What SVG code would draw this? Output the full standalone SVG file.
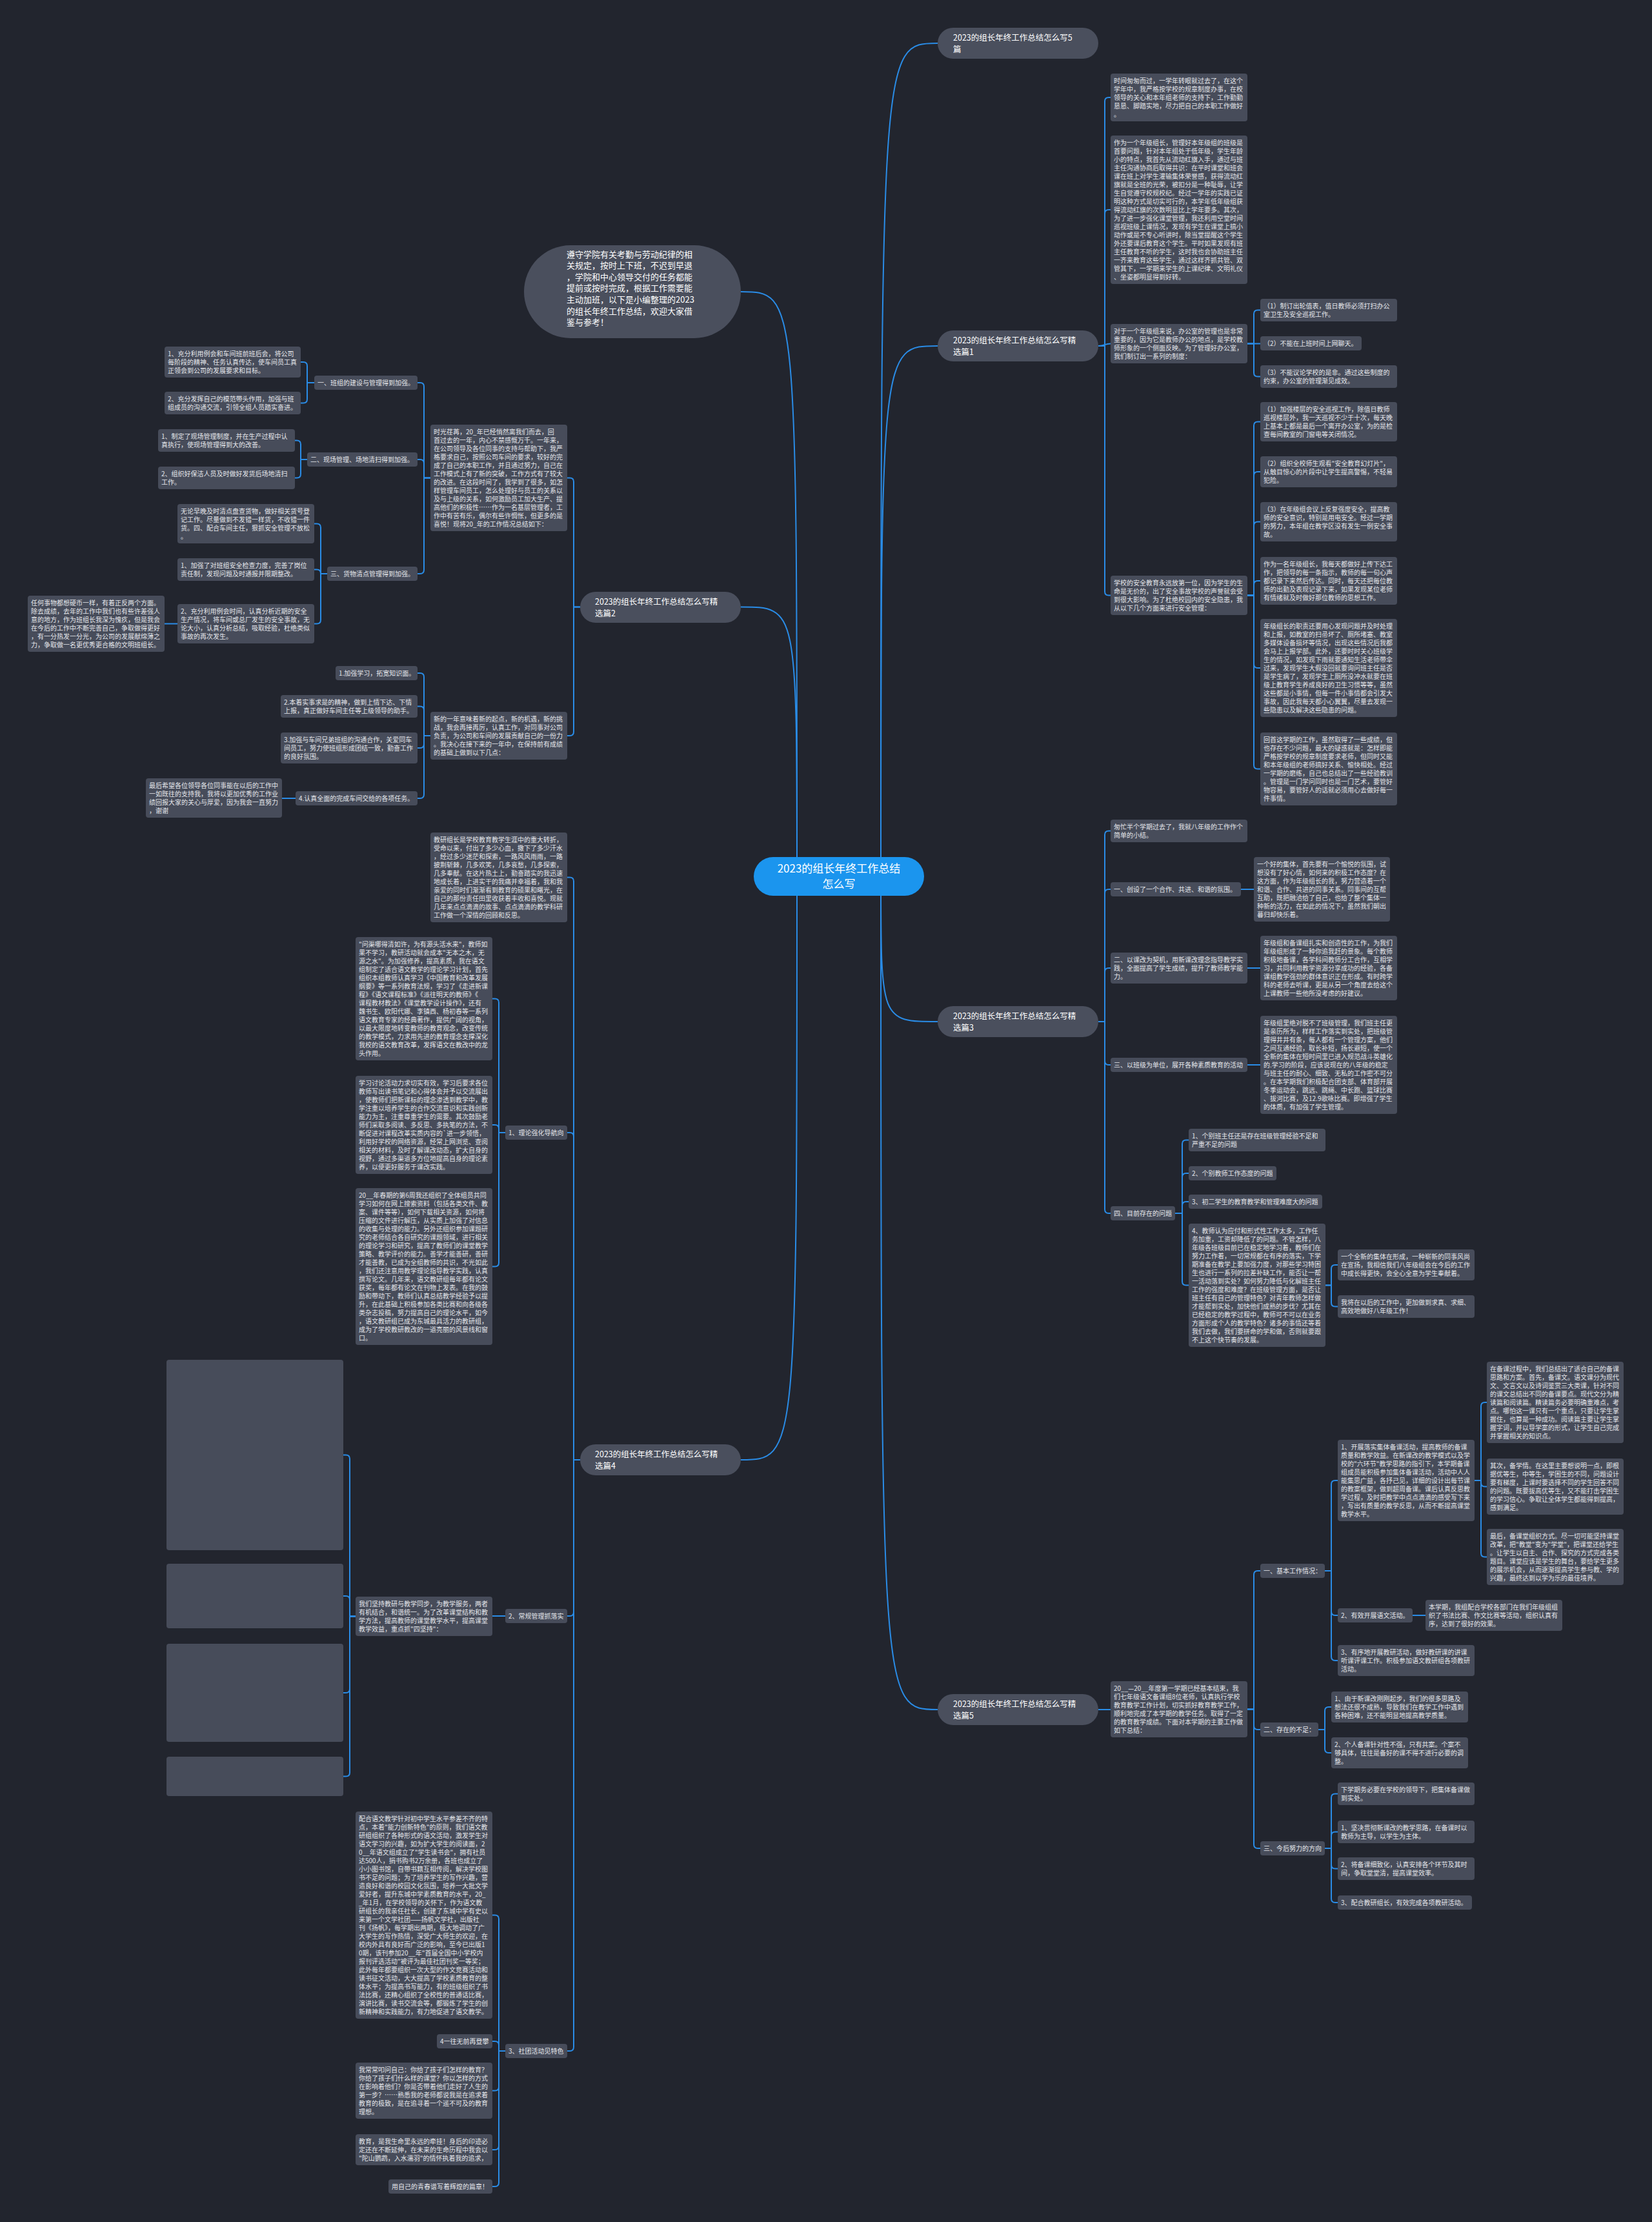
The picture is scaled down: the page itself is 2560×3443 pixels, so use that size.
<svg xmlns="http://www.w3.org/2000/svg" width="2560" height="3443" viewBox="0 0 2560 3443">
<style>
.b{fill:#474c5a}
.n{fill:#4a4f5d}
.t{font-family:"Noto Sans CJK SC","Noto Sans",sans-serif;font-size:10px;fill:#e4e6ea}
.nt{font-family:"Noto Sans CJK SC","Noto Sans",sans-serif;font-size:12.5px;fill:#ffffff}
.c{fill:none;stroke:#2a8ce6;stroke-width:2}
</style>
<rect width="2560" height="3443" fill="#22252e"/>
<g id="connectors" class="c">
<path d="M1365,1358 C1365,67 1365,67 1453,67"/>
<path d="M1365,1358 C1365,536 1365,536 1453,536"/>
<path d="M1365,1358 C1365,1583 1365,1583 1453,1583"/>
<path d="M1365,1358 C1365,2649 1365,2649 1453,2649"/>
<path d="M1235,1358 C1235,452 1235,452 1148,452"/>
<path d="M1235,1358 C1235,940.5 1235,940.5 1148,940.5"/>
<path d="M1235,1358 C1235,2262 1235,2262 1148,2262"/>
<path d="M1702,536 H1712 V157 Q1712,151 1718,151 H1721"/>
<path d="M1702,536 H1712 V331 Q1712,325 1718,325 H1721"/>
<path d="M1702,536 C1712,536 1712,532.5 1721,532.5"/>
<path d="M1702,536 H1712 V916.5 Q1712,922.5 1718,922.5 H1721"/>
<path d="M1933,532.5 H1943 V486.5 Q1943,480.5 1949,480.5 H1953"/>
<path d="M1933,532.5 H1953"/>
<path d="M1933,532.5 H1943 V577.5 Q1943,583.5 1949,583.5 H1953"/>
<path d="M1933,922.5 H1943 V659.5 Q1943,653.5 1949,653.5 H1953"/>
<path d="M1933,922.5 H1943 V737 Q1943,731 1949,731 H1953"/>
<path d="M1933,922.5 H1943 V814.5 Q1943,808.5 1949,808.5 H1953"/>
<path d="M1933,922.5 H1943 V906 Q1943,900 1949,900 H1953"/>
<path d="M1933,922.5 H1943 V1029 Q1943,1035 1949,1035 H1953"/>
<path d="M1933,922.5 H1943 V1185.5 Q1943,1191.5 1949,1191.5 H1953"/>
<path d="M1702,1583 H1712 V1293.5 Q1712,1287.5 1718,1287.5 H1721"/>
<path d="M1702,1583 H1712 V1384 Q1712,1378 1718,1378 H1721"/>
<path d="M1702,1583 H1712 V1506 Q1712,1500 1718,1500 H1721"/>
<path d="M1702,1583 H1712 V1644 Q1712,1650 1718,1650 H1721"/>
<path d="M1702,1583 H1712 V1874 Q1712,1880 1718,1880 H1721"/>
<path d="M1923,1378 H1943"/>
<path d="M1933,1500 H1953"/>
<path d="M1933,1650 H1953"/>
<path d="M1821,1880 H1832 V1772.5 Q1832,1766.5 1838,1766.5 H1842"/>
<path d="M1821,1880 H1832 V1824 Q1832,1818 1838,1818 H1842"/>
<path d="M1821,1880 H1832 V1868 Q1832,1862 1838,1862 H1842"/>
<path d="M1821,1880 H1832 V1985.5 Q1832,1991.5 1838,1991.5 H1842"/>
<path d="M2054,1991.5 H2063 V1966 Q2063,1960 2069,1960 H2073"/>
<path d="M2054,1991.5 H2063 V2018.5 Q2063,2024.5 2069,2024.5 H2073"/>
<path d="M1702,2649 H1721"/>
<path d="M1933,2648.5 H1943 V2440 Q1943,2434 1949,2434 H1953"/>
<path d="M1933,2648.5 H1943 V2674 Q1943,2680 1949,2680 H1953"/>
<path d="M1933,2648.5 H1943 V2858 Q1943,2864 1949,2864 H1953"/>
<path d="M2053,2434 H2063 V2300 Q2063,2294 2069,2294 H2073"/>
<path d="M2053,2434 H2063 V2497 Q2063,2503 2069,2503 H2073"/>
<path d="M2053,2434 H2063 V2567 Q2063,2573 2069,2573 H2073"/>
<path d="M2285,2294 H2295 V2179 Q2295,2173 2301,2173 H2304"/>
<path d="M2285,2294 H2295 V2297.5 Q2295,2303.5 2301,2303.5 H2304"/>
<path d="M2285,2294 H2295 V2406.5 Q2295,2412.5 2301,2412.5 H2304"/>
<path d="M2189,2503 H2209"/>
<path d="M2043,2680 H2053 V2651 Q2053,2645 2059,2645 H2063"/>
<path d="M2043,2680 H2053 V2710 Q2053,2716 2059,2716 H2063"/>
<path d="M2053,2864 H2063 V2785.5 Q2063,2779.5 2069,2779.5 H2073"/>
<path d="M2053,2864 H2063 V2844.5 Q2063,2838.5 2069,2838.5 H2073"/>
<path d="M2053,2864 H2063 V2889.5 Q2063,2895.5 2069,2895.5 H2073"/>
<path d="M2053,2864 H2063 V2942 Q2063,2948 2069,2948 H2073"/>
<path d="M899,940.5 H889 V746.5 Q889,740.5 883,740.5 H879"/>
<path d="M899,940.5 H889 V1134 Q889,1140 883,1140 H879"/>
<path d="M667,740.5 H657 V599 Q657,593 651,593 H647"/>
<path d="M667,740.5 H657 V718 Q657,712 651,712 H647"/>
<path d="M667,740.5 H657 V883 Q657,889 651,889 H647"/>
<path d="M487,593 H476 V567 Q476,561 470,561 H466"/>
<path d="M487,593 H476 V618.5 Q476,624.5 470,624.5 H466"/>
<path d="M476,712 H466 V688.5 Q466,682.5 460,682.5 H457"/>
<path d="M476,712 H466 V734.5 Q466,740.5 460,740.5 H457"/>
<path d="M507,889 H497 V817.5 Q497,811.5 491,811.5 H487"/>
<path d="M507,889 H497 V888.5 Q497,882.5 491,882.5 H487"/>
<path d="M507,889 H497 V960.5 Q497,966.5 491,966.5 H487"/>
<path d="M275,966.5 H255"/>
<path d="M667,1140 H657 V1049 Q657,1043 651,1043 H647"/>
<path d="M667,1140 H657 V1100.5 Q657,1094.5 651,1094.5 H647"/>
<path d="M667,1140 H657 V1153 Q657,1159 651,1159 H647"/>
<path d="M667,1140 H657 V1231 Q657,1237 651,1237 H647"/>
<path d="M458,1237 H437"/>
<path d="M899,2262 H889 V1365.5 Q889,1359.5 883,1359.5 H879"/>
<path d="M899,2262 H889 V1761 Q889,1755 883,1755 H879"/>
<path d="M899,2262 H889 V2498 Q889,2504 883,2504 H879"/>
<path d="M899,2262 H889 V3172 Q889,3178 883,3178 H879"/>
<path d="M783,1755 H773 V1553.5 Q773,1547.5 767,1547.5 H763"/>
<path d="M783,1755 H773 V1749 Q773,1743 767,1743 H763"/>
<path d="M783,1755 H773 V1956.5 Q773,1962.5 767,1962.5 H763"/>
<path d="M783,2504 H763"/>
<path d="M551,2504.5 H542 V2260.5 Q542,2254.5 536,2254.5 H532"/>
<path d="M551,2504.5 H542 V2479 Q542,2473 536,2473 H532"/>
<path d="M551,2504.5 H542 V2617 Q542,2623 536,2623 H532"/>
<path d="M551,2504.5 H542 V2746.5 Q542,2752.5 536,2752.5 H532"/>
<path d="M783,3178 H773 V2973.5 Q773,2967.5 767,2967.5 H763"/>
<path d="M783,3178 H773 V3169 Q773,3163 767,3163 H763"/>
<path d="M783,3178 H773 V3233.5 Q773,3239.5 767,3239.5 H763"/>
<path d="M783,3178 H773 V3325 Q773,3331 767,3331 H763"/>
<path d="M783,3178 H773 V3382 Q773,3388 767,3388 H763"/>
</g>

<g id="center"><rect x="1168" y="1328" width="264" height="60" rx="30" fill="#1b95ee"/>
<text x="1300" y="1352" text-anchor="middle" font-family="Noto Sans CJK SC, sans-serif" font-size="17" fill="#fff"><tspan x="1300">2023的组长年终工作总结</tspan><tspan x="1300" dy="24">怎么写</tspan></text></g>

<g id="intro"><rect x="812" y="380" width="336" height="144" rx="72" class="n"/>
<text font-family="Noto Sans CJK SC, sans-serif" font-size="13" fill="#fff" x="878" y="398.5"><tspan x="878">遵守学院有关考勤与劳动纪律的相</tspan><tspan x="878" dy="17.6">关规定，按时上下班，不迟到早退</tspan><tspan x="878" dy="17.6">，学院和中心领导交付的任务都能</tspan><tspan x="878" dy="17.6">提前或按时完成，根据工作需要能</tspan><tspan x="878" dy="17.6">主动加班，以下是小编整理的2023</tspan><tspan x="878" dy="17.6">的组长年终工作总结，欢迎大家借</tspan><tspan x="878" dy="17.6">鉴与参考！</tspan></text></g>

<g id="n1"><rect x="1453" y="43" width="249" height="48" rx="24" class="n"/><text class="nt" x="1477" y="62.5"><tspan x="1477">2023的组长年终工作总结怎么写5</tspan><tspan x="1477" dy="18.5">篇</tspan></text></g>
<g id="n2"><rect x="1453" y="512" width="249" height="48" rx="24" class="n"/><text class="nt" x="1477" y="531.5"><tspan x="1477">2023的组长年终工作总结怎么写精</tspan><tspan x="1477" dy="18.5">选篇1</tspan></text></g>
<g id="n3"><rect x="1453" y="1559" width="249" height="48" rx="24" class="n"/><text class="nt" x="1477" y="1578.5"><tspan x="1477">2023的组长年终工作总结怎么写精</tspan><tspan x="1477" dy="18.5">选篇3</tspan></text></g>
<g id="n5"><rect x="1453" y="2625" width="249" height="48" rx="24" class="n"/><text class="nt" x="1477" y="2644.5"><tspan x="1477">2023的组长年终工作总结怎么写精</tspan><tspan x="1477" dy="18.5">选篇5</tspan></text></g>
<g id="n2l"><rect x="899" y="917" width="249" height="48" rx="24" class="n"/><text class="nt" x="922" y="936.5"><tspan x="922">2023的组长年终工作总结怎么写精</tspan><tspan x="922" dy="18.5">选篇2</tspan></text></g>
<g id="n4l"><rect x="899" y="2238" width="249" height="48" rx="24" class="n"/><text class="nt" x="922" y="2257.5"><tspan x="922">2023的组长年终工作总结怎么写精</tspan><tspan x="922" dy="18.5">选篇4</tspan></text></g>

<g id="b1a"><rect class="b" x="1721" y="114" width="212" height="74" rx="4"/><text class="t" x="1726" y="129"><tspan x="1726">时间匆匆而过，一学年转眼就过去了，在这个</tspan><tspan x="1726" dy="13">学年中，我严格按学校的规章制度办事，在校</tspan><tspan x="1726" dy="13">领导的关心和本年组老师的支持下，工作勤勤</tspan><tspan x="1726" dy="13">恳恳、脚踏实地，尽力把自己的本职工作做好</tspan><tspan x="1726" dy="13">。</tspan></text></g>
<g id="b1b"><rect class="b" x="1721" y="210" width="212" height="230" rx="4"/><text class="t" x="1726" y="225"><tspan x="1726">作为一个年级组长，管理好本年级组的班级是</tspan><tspan x="1726" dy="13">首要问题，针对本年组处于低年级，学生年龄</tspan><tspan x="1726" dy="13">小的特点，我首先从流动红旗入手，通过与班</tspan><tspan x="1726" dy="13">主任沟通协商后取得共识：在平时课堂和班会</tspan><tspan x="1726" dy="13">课在班上对学生灌输集体荣誉感，获得流动红</tspan><tspan x="1726" dy="13">旗就是全班的光荣，被扣分是一种耻辱，让学</tspan><tspan x="1726" dy="13">生自觉遵守校规校纪。经过一学年的实践已证</tspan><tspan x="1726" dy="13">明这种方式是切实可行的，本学年低年级组获</tspan><tspan x="1726" dy="13">得流动红旗的次数明显比上学年要多。其次，</tspan><tspan x="1726" dy="13">为了进一步强化课堂管理，我还利用空堂时间</tspan><tspan x="1726" dy="13">巡视班级上课情况，发现有学生在课堂上搞小</tspan><tspan x="1726" dy="13">动作或是不专心听讲时，除当堂提醒这个学生</tspan><tspan x="1726" dy="13">外还要课后教育这个学生。平时如果发现有班</tspan><tspan x="1726" dy="13">主任教育不听的学生，这时我也会协助班主任</tspan><tspan x="1726" dy="13">一齐来教育这些学生，通过这样齐抓共管、双</tspan><tspan x="1726" dy="13">管其下，一学期来学生的上课纪律、文明礼仪</tspan><tspan x="1726" dy="13">、坐姿都明显得到好转。</tspan></text></g>
<g id="b1c"><rect class="b" x="1721" y="502" width="212" height="61" rx="4"/><text class="t" x="1726" y="517"><tspan x="1726">对于一个年级组来说，办公室的管理也是非常</tspan><tspan x="1726" dy="13">重要的，因为它是教师办公的地点，是学校教</tspan><tspan x="1726" dy="13">师形象的一个侧面反映。为了管理好办公室，</tspan><tspan x="1726" dy="13">我们制订出一系列的制度：</tspan></text></g>
<g id="b1c1"><rect class="b" x="1953" y="463" width="212" height="35" rx="4"/><text class="t" x="1958" y="478"><tspan x="1958">（1）制订出轮值表，值日教师必须打扫办公</tspan><tspan x="1958" dy="13">室卫生及安全巡视工作。</tspan></text></g>
<g id="b1c2"><rect class="b" x="1953" y="521" width="157" height="22" rx="4"/><text class="t" x="1958" y="536">（2）不能在上班时间上网聊天。</text></g>
<g id="b1c3"><rect class="b" x="1953" y="566" width="212" height="35" rx="4"/><text class="t" x="1958" y="581"><tspan x="1958">（3）不能议论学校的是非。通过这些制度的</tspan><tspan x="1958" dy="13">约束，办公室的管理渐见成效。</tspan></text></g>
<g id="b1d"><rect class="b" x="1721" y="892" width="212" height="61" rx="4"/><text class="t" x="1726" y="907"><tspan x="1726">学校的安全教育永远放第一位，因为学生的生</tspan><tspan x="1726" dy="13">命是无价的，出了安全事故学校的声誉就会受</tspan><tspan x="1726" dy="13">到很大影响。为了杜绝校园内的安全隐患，我</tspan><tspan x="1726" dy="13">从以下几个方面来进行安全管理：</tspan></text></g>
<g id="b1d1"><rect class="b" x="1953" y="623" width="212" height="61" rx="4"/><text class="t" x="1958" y="638"><tspan x="1958">（1）加强楼层的安全巡视工作，除值日教师</tspan><tspan x="1958" dy="13">巡视楼层外，我一天巡视不少于十次，每天晚</tspan><tspan x="1958" dy="13">上基本上都是最后一个离开办公室，为的是检</tspan><tspan x="1958" dy="13">查每间教室的门窗电等关闭情况。</tspan></text></g>
<g id="b1d2"><rect class="b" x="1953" y="707" width="212" height="48" rx="4"/><text class="t" x="1958" y="722"><tspan x="1958">（2）组织全校师生观看"安全教育幻灯片"，</tspan><tspan x="1958" dy="13">从触目惊心的片段中让学生提高警惕，不轻易</tspan><tspan x="1958" dy="13">犯险。</tspan></text></g>
<g id="b1d3"><rect class="b" x="1953" y="778" width="212" height="61" rx="4"/><text class="t" x="1958" y="793"><tspan x="1958">（3）在年级组会议上反复强度安全，提高教</tspan><tspan x="1958" dy="13">师的安全意识，特别是用电安全。经过一学期</tspan><tspan x="1958" dy="13">的努力，本年组在教学区没有发生一例安全事</tspan><tspan x="1958" dy="13">故。</tspan></text></g>
<g id="b1d4"><rect class="b" x="1953" y="863" width="212" height="74" rx="4"/><text class="t" x="1958" y="878"><tspan x="1958">作为一名年级组长，我每天都做好上传下达工</tspan><tspan x="1958" dy="13">作，把领导的每一条指示，教师的每一句心声</tspan><tspan x="1958" dy="13">都记录下来然后传达。同时，每天还把每位教</tspan><tspan x="1958" dy="13">师的出勤及表现记录下来，如果发现某位老师</tspan><tspan x="1958" dy="13">有情绪就及时做好那位教师的思想工作。</tspan></text></g>
<g id="b1d5"><rect class="b" x="1953" y="959" width="212" height="152" rx="4"/><text class="t" x="1958" y="974"><tspan x="1958">年级组长的职责还要用心发现问题并及时处理</tspan><tspan x="1958" dy="13">和上报，如教室的扫帚坏了、厕所堵塞、教室</tspan><tspan x="1958" dy="13">多媒体设备损坏等情况，出现这些情况后我都</tspan><tspan x="1958" dy="13">会马上上报学部。此外，还要时时关心班级学</tspan><tspan x="1958" dy="13">生的情况，如发现下雨就要通知生活老师带伞</tspan><tspan x="1958" dy="13">过来，发现学生大假没回就要询问班主任是否</tspan><tspan x="1958" dy="13">是学生病了，发现学生上厕所没冲水就要在班</tspan><tspan x="1958" dy="13">级上教育学生养成良好的卫生习惯等等，虽然</tspan><tspan x="1958" dy="13">这些都是小事情，但每一件小事情都会引发大</tspan><tspan x="1958" dy="13">事故，因此我每天都小心翼翼，尽量去发现一</tspan><tspan x="1958" dy="13">些隐患以及解决这些隐患的问题。</tspan></text></g>
<g id="b1d6"><rect class="b" x="1953" y="1135" width="212" height="113" rx="4"/><text class="t" x="1958" y="1150"><tspan x="1958">回首这学期的工作，虽然取得了一些成绩，但</tspan><tspan x="1958" dy="13">也存在不少问题，最大的疑惑就是：怎样即能</tspan><tspan x="1958" dy="13">严格按学校的规章制度要求老师，但同时又能</tspan><tspan x="1958" dy="13">和本年级组的老师搞好关系、愉快相处。经过</tspan><tspan x="1958" dy="13">一学期的磨练，自己也总结出了一些经验教训</tspan><tspan x="1958" dy="13">。管理是一门学问同时也是一门艺术，要管好</tspan><tspan x="1958" dy="13">物容易，要管好人的话就必须用心去做好每一</tspan><tspan x="1958" dy="13">件事情。</tspan></text></g>

<g id="d1"><rect class="b" x="1721" y="1270" width="212" height="35" rx="4"/><text class="t" x="1726" y="1285"><tspan x="1726">匆忙半个学期过去了，我就八年级的工作作个</tspan><tspan x="1726" dy="13">简单的小结。</tspan></text></g>
<g id="d2"><rect class="b" x="1721" y="1367" width="202" height="22" rx="4"/><text class="t" x="1726" y="1382">一、创设了一个合作、共进、和谐的氛围。</text></g>
<g id="d2c"><rect class="b" x="1943" y="1328" width="211" height="100" rx="4"/><text class="t" x="1948" y="1343"><tspan x="1948">一个好的集体，首先要有一个愉悦的氛围，试</tspan><tspan x="1948" dy="13">想没有了好心情，如何来的积极工作态度？在</tspan><tspan x="1948" dy="13">这方面，作为年级组长的我，努力营造着一个</tspan><tspan x="1948" dy="13">和谐、合作、共进的同事关系。同事间的互帮</tspan><tspan x="1948" dy="13">互助，既把融洽给了自己，也给了整个集体一</tspan><tspan x="1948" dy="13">种新的活力，在如此的情况下，虽然我们朝出</tspan><tspan x="1948" dy="13">暮归却快乐着。</tspan></text></g>
<g id="d3"><rect class="b" x="1721" y="1476" width="212" height="48" rx="4"/><text class="t" x="1726" y="1491"><tspan x="1726">二、以课改为契机，用新课改理念指导教学实</tspan><tspan x="1726" dy="13">践，全面提高了学生成绩，提升了教师教学能</tspan><tspan x="1726" dy="13">力。</tspan></text></g>
<g id="d3c"><rect class="b" x="1953" y="1450" width="212" height="100" rx="4"/><text class="t" x="1958" y="1465"><tspan x="1958">年级组和备课组扎实和创造性的工作，为我们</tspan><tspan x="1958" dy="13">年级组形成了一种你追我赶的景象。每个教师</tspan><tspan x="1958" dy="13">积极地备课，各学科间教师分工合作，互相学</tspan><tspan x="1958" dy="13">习，共同利用教学资源分享成功的经验，各备</tspan><tspan x="1958" dy="13">课组教学强劲的群体意识正在形成。有时跨学</tspan><tspan x="1958" dy="13">科的老师去听课，更是从另一个角度去给这个</tspan><tspan x="1958" dy="13">上课教师一些他所没考虑的好建议。</tspan></text></g>
<g id="d4"><rect class="b" x="1721" y="1639" width="212" height="22" rx="4"/><text class="t" x="1726" y="1654">三、以班级为单位，展开各种素质教育的活动</text></g>
<g id="d4c"><rect class="b" x="1953" y="1574" width="212" height="152" rx="4"/><text class="t" x="1958" y="1589"><tspan x="1958">年级组里绝对脱不了班级管理，我们班主任更</tspan><tspan x="1958" dy="13">是亲历所为，样样工作落实到实处，把班级管</tspan><tspan x="1958" dy="13">理得井井有条，每人都有一个管理方案，他们</tspan><tspan x="1958" dy="13">之间互通经验，取长补短，扬长避短，使一个</tspan><tspan x="1958" dy="13">全新的集体在短时间里已进入规范战斗英雄化</tspan><tspan x="1958" dy="13">的.学习的阶段，应该说现在的八年级的稳定</tspan><tspan x="1958" dy="13">与班主任的耐心、细致、无私的工作密不可分</tspan><tspan x="1958" dy="13">。在本学期我们积极配合团支部、体育部开展</tspan><tspan x="1958" dy="13">冬季运动会，跳远、跳绳、中长跑、篮球比赛</tspan><tspan x="1958" dy="13">、拔河比赛，及12.9歌咏比赛。即增强了学生</tspan><tspan x="1958" dy="13">的体质，有加强了学生管理。</tspan></text></g>
<g id="d5"><rect class="b" x="1721" y="1869" width="100" height="22" rx="4"/><text class="t" x="1726" y="1884">四、目前存在的问题</text></g>
<g id="d5a"><rect class="b" x="1842" y="1749" width="212" height="35" rx="4"/><text class="t" x="1847" y="1764"><tspan x="1847">1、个别班主任还是存在班级管理经验不足和</tspan><tspan x="1847" dy="13">严重不足的问题</tspan></text></g>
<g id="d5b"><rect class="b" x="1842" y="1807" width="136" height="22" rx="4"/><text class="t" x="1847" y="1822">2、个别教师工作态度的问题</text></g>
<g id="d5c"><rect class="b" x="1842" y="1851" width="207" height="22" rx="4"/><text class="t" x="1847" y="1866">3、初二学生的教育教学和管理难度大的问题</text></g>
<g id="d5d"><rect class="b" x="1842" y="1896" width="212" height="191" rx="4"/><text class="t" x="1847" y="1911"><tspan x="1847">4、教师认为应付和形式性工作太多，工作任</tspan><tspan x="1847" dy="13">务加重，工资却降低了的问题。不管怎样，八</tspan><tspan x="1847" dy="13">年级各班级目前已在稳定地学习着，教师们在</tspan><tspan x="1847" dy="13">努力工作着，一切常规都在有序的落实，下学</tspan><tspan x="1847" dy="13">期准备在教学上要加强力度，对那些学习特困</tspan><tspan x="1847" dy="13">生也进行一系列的拉差补缺工作，能否让一帮</tspan><tspan x="1847" dy="13">一活动落到实处？如何努力降低与化解班主任</tspan><tspan x="1847" dy="13">工作的强度和难度？在班级管理方面，是否让</tspan><tspan x="1847" dy="13">班主任有自己的管理特色？对青年教师怎样做</tspan><tspan x="1847" dy="13">才能帮到实处，加快他们成熟的步伐？尤其在</tspan><tspan x="1847" dy="13">已经稳定的教学过程中，教师可不可以在业务</tspan><tspan x="1847" dy="13">方面形成个人的教学特色？诸多的事情还等着</tspan><tspan x="1847" dy="13">我们去做，我们要拼命的学和做，否则就要跟</tspan><tspan x="1847" dy="13">不上这个快节奏的发展。</tspan></text></g>
<g id="d5d1"><rect class="b" x="2073" y="1936" width="212" height="48" rx="4"/><text class="t" x="2078" y="1951"><tspan x="2078">一个全新的集体在形成，一种崭新的同事风尚</tspan><tspan x="2078" dy="13">在宣扬，我相信我们八年级组会在今后的工作</tspan><tspan x="2078" dy="13">中成长得更快，会全心全意为学生奉献着。</tspan></text></g>
<g id="d5d2"><rect class="b" x="2073" y="2007" width="212" height="35" rx="4"/><text class="t" x="2078" y="2022"><tspan x="2078">我将在以后的工作中，更加做到求真、求细、</tspan><tspan x="2078" dy="13">高效地做好八年级工作！</tspan></text></g>

<g id="e1"><rect class="b" x="1721" y="2605" width="212" height="87" rx="4"/><text class="t" x="1726" y="2620"><tspan x="1726">20__—20__年度第一学期已经基本结束，我</tspan><tspan x="1726" dy="13">们七年级语文备课组8位老师，认真执行学校</tspan><tspan x="1726" dy="13">教育教学工作计划，切实抓好教育教学工作，</tspan><tspan x="1726" dy="13">顺利地完成了本学期的教学任务。取得了一定</tspan><tspan x="1726" dy="13">的教育教学成绩。下面对本学期的主要工作做</tspan><tspan x="1726" dy="13">如下总结：</tspan></text></g>
<g id="e1a"><rect class="b" x="1953" y="2423" width="100" height="22" rx="4"/><text class="t" x="1958" y="2438">一、基本工作情况：</text></g>
<g id="e1b"><rect class="b" x="1953" y="2669" width="90" height="22" rx="4"/><text class="t" x="1958" y="2684">二、存在的不足：</text></g>
<g id="e1c"><rect class="b" x="1953" y="2853" width="100" height="22" rx="4"/><text class="t" x="1958" y="2868">三、今后努力的方向</text></g>
<g id="e1a1"><rect class="b" x="2073" y="2231" width="212" height="126" rx="4"/><text class="t" x="2078" y="2246"><tspan x="2078">1、开展落实集体备课活动，提高教师的备课</tspan><tspan x="2078" dy="13">质量和教学效益。在新课改的教学模式以及学</tspan><tspan x="2078" dy="13">校的"六环节"教学思路的指引下，本学期备课</tspan><tspan x="2078" dy="13">组成员能积极参加集体备课活动，活动中人人</tspan><tspan x="2078" dy="13">能集思广益，各抒己见，详细的设计出每节课</tspan><tspan x="2078" dy="13">的教案框架，做到超周备课。课后认真反思教</tspan><tspan x="2078" dy="13">学过程，及时把教学中点点滴滴的感受写下来</tspan><tspan x="2078" dy="13">，写出有质量的教学反思，从而不断提高课堂</tspan><tspan x="2078" dy="13">教学水平。</tspan></text></g>
<g id="e1a1a"><rect class="b" x="2304" y="2110" width="212" height="126" rx="4"/><text class="t" x="2309" y="2125"><tspan x="2309">在备课过程中，我们总结出了适合自己的备课</tspan><tspan x="2309" dy="13">思路和方案。首先，备课文。语文课分为现代</tspan><tspan x="2309" dy="13">文、文言文以及诗词鉴赏三大类课，针对不同</tspan><tspan x="2309" dy="13">的课文总结出不同的备课要点。现代文分为精</tspan><tspan x="2309" dy="13">读篇和阅读篇。精读篇务必要明确重难点，考</tspan><tspan x="2309" dy="13">点。哪怕这一课只有一个重点，只要让学生掌</tspan><tspan x="2309" dy="13">握住，也算是一种成功。阅读篇主要让学生掌</tspan><tspan x="2309" dy="13">握字词，并以导学案的形式，让学生自己完成</tspan><tspan x="2309" dy="13">并掌握相关的知识点。</tspan></text></g>
<g id="e1a1b"><rect class="b" x="2304" y="2260" width="212" height="87" rx="4"/><text class="t" x="2309" y="2275"><tspan x="2309">其次，备学情。在这里主要想说明一点，即根</tspan><tspan x="2309" dy="13">据优等生，中等生，学困生的不同，问题设计</tspan><tspan x="2309" dy="13">要有梯度，上课时要选择不同的学生回答不同</tspan><tspan x="2309" dy="13">的问题。既要拔高优等生，又不能打击学困生</tspan><tspan x="2309" dy="13">的学习信心。争取让全体学生都能得到提高，</tspan><tspan x="2309" dy="13">感到满足。</tspan></text></g>
<g id="e1a1c"><rect class="b" x="2304" y="2369" width="212" height="87" rx="4"/><text class="t" x="2309" y="2384"><tspan x="2309">最后，备课堂组织方式。尽一切可能坚持课堂</tspan><tspan x="2309" dy="13">改革，把"教堂"变为"学堂"，把课堂还给学生</tspan><tspan x="2309" dy="13">。让学生以自主、合作、探究的方式完成各类</tspan><tspan x="2309" dy="13">题目。课堂应该是学生的舞台，要给学生更多</tspan><tspan x="2309" dy="13">的展示机会，从而逐渐提高学生参与教、学的</tspan><tspan x="2309" dy="13">兴趣，最终达到以学为乐的最佳境界。</tspan></text></g>
<g id="e1a2"><rect class="b" x="2073" y="2492" width="116" height="22" rx="4"/><text class="t" x="2078" y="2507">2、有效开展语文活动。</text></g>
<g id="e1a2c"><rect class="b" x="2209" y="2479" width="212" height="48" rx="4"/><text class="t" x="2214" y="2494"><tspan x="2214">本学期，我组配合学校各部门在我们年级组组</tspan><tspan x="2214" dy="13">织了书法比赛、作文比赛等活动，组织认真有</tspan><tspan x="2214" dy="13">序，达到了很好的效果。</tspan></text></g>
<g id="e1a3"><rect class="b" x="2073" y="2549" width="212" height="48" rx="4"/><text class="t" x="2078" y="2564"><tspan x="2078">3、有序地开展教研活动，做好教研课的讲课</tspan><tspan x="2078" dy="13">听课评课工作。积极参加语文教研组各项教研</tspan><tspan x="2078" dy="13">活动。</tspan></text></g>
<g id="e1b1"><rect class="b" x="2063" y="2621" width="212" height="48" rx="4"/><text class="t" x="2068" y="2636"><tspan x="2068">1、由于新课改刚刚起步，我们的很多思路及</tspan><tspan x="2068" dy="13">想法还很不成熟，导致我们在教学工作中遇到</tspan><tspan x="2068" dy="13">各种困难，还不能明显地提高教学质量。</tspan></text></g>
<g id="e1b2"><rect class="b" x="2063" y="2692" width="212" height="48" rx="4"/><text class="t" x="2068" y="2707"><tspan x="2068">2、个人备课针对性不强，只有共案。个案不</tspan><tspan x="2068" dy="13">够具体，往往是备好的课不得不进行必要的调</tspan><tspan x="2068" dy="13">整。</tspan></text></g>
<g id="e1c1"><rect class="b" x="2073" y="2762" width="212" height="35" rx="4"/><text class="t" x="2078" y="2777"><tspan x="2078">下学期务必要在学校的领导下，把集体备课做</tspan><tspan x="2078" dy="13">到实处。</tspan></text></g>
<g id="e1c2"><rect class="b" x="2073" y="2821" width="212" height="35" rx="4"/><text class="t" x="2078" y="2836"><tspan x="2078">1、坚决贯彻新课改的教学思路，在备课时以</tspan><tspan x="2078" dy="13">教师为主导，以学生为主体。</tspan></text></g>
<g id="e1c3"><rect class="b" x="2073" y="2878" width="212" height="35" rx="4"/><text class="t" x="2078" y="2893"><tspan x="2078">2、将备课细致化，认真安排各个环节及其时</tspan><tspan x="2078" dy="13">间，争取堂堂清，提高课堂效率。</tspan></text></g>
<g id="e1c4"><rect class="b" x="2073" y="2937" width="208" height="22" rx="4"/><text class="t" x="2078" y="2952">3、配合教研组长，有效完成各项教研活动。</text></g>

<g id="f1"><rect class="b" x="667" y="658" width="212" height="165" rx="4"/><text class="t" x="672" y="673"><tspan x="672">时光荏苒，20_年已经悄然离我们而去，回</tspan><tspan x="672" dy="13">首过去的一年，内心不禁感慨万千。一年来，</tspan><tspan x="672" dy="13">在公司领导及各位同事的支持与帮助下，我严</tspan><tspan x="672" dy="13">格要求自己，按照公司车间的要求，较好的完</tspan><tspan x="672" dy="13">成了自己的本职工作，并且通过努力，自己在</tspan><tspan x="672" dy="13">工作模式上有了新的突破，工作方式有了较大</tspan><tspan x="672" dy="13">的改进。在这段时间了，我学到了很多，如怎</tspan><tspan x="672" dy="13">样管理车间员工，怎么处理好与员工的关系以</tspan><tspan x="672" dy="13">及与上级的关系，如何激励员工加大生产、提</tspan><tspan x="672" dy="13">高他们的积极性……作为一名基层管理者，工</tspan><tspan x="672" dy="13">作中有苦有乐，偶尔有些许惆怅，但更多的是</tspan><tspan x="672" dy="13">喜悦！现将20_年的工作情况总结如下：</tspan></text></g>
<g id="f1a"><rect class="b" x="487" y="582" width="160" height="22" rx="4"/><text class="t" x="492" y="597">一、班组的建设与管理得到加强。</text></g>
<g id="f1a1"><rect class="b" x="255" y="537" width="211" height="48" rx="4"/><text class="t" x="260" y="552"><tspan x="260">1、充分利用例会和车间班前班后会，将公司</tspan><tspan x="260" dy="13">每阶段的精神、任务认真传达，使车间员工真</tspan><tspan x="260" dy="13">正领会到公司的发展要求和目标。</tspan></text></g>
<g id="f1a2"><rect class="b" x="255" y="607" width="211" height="35" rx="4"/><text class="t" x="260" y="622"><tspan x="260">2、充分发挥自己的模范带头作用，加强与班</tspan><tspan x="260" dy="13">组成员的沟通交流，引领全组人员踏实奋进。</tspan></text></g>
<g id="f1b"><rect class="b" x="476" y="701" width="171" height="22" rx="4"/><text class="t" x="481" y="716">二、现场管理、场地清扫得到加强。</text></g>
<g id="f1b1"><rect class="b" x="245" y="665" width="212" height="35" rx="4"/><text class="t" x="250" y="680"><tspan x="250">1、制定了现场管理制度，并在生产过程中认</tspan><tspan x="250" dy="13">真执行，使现场管理得到大的改善。</tspan></text></g>
<g id="f1b2"><rect class="b" x="245" y="723" width="212" height="35" rx="4"/><text class="t" x="250" y="738"><tspan x="250">2、组织好保洁人员及时做好发货后场地清扫</tspan><tspan x="250" dy="13">工作。</tspan></text></g>
<g id="f1c"><rect class="b" x="507" y="878" width="140" height="22" rx="4"/><text class="t" x="512" y="893">三、货物清点管理得到加强。</text></g>
<g id="f1c1"><rect class="b" x="275" y="781" width="212" height="61" rx="4"/><text class="t" x="280" y="796"><tspan x="280">无论早晚及时清点盘查货物，做好相关货号登</tspan><tspan x="280" dy="13">记工作。尽量做到不发错一样货，不收错一件</tspan><tspan x="280" dy="13">货。四、配合车间主任，狠抓安全管理不放松</tspan><tspan x="280" dy="13">。</tspan></text></g>
<g id="f1c2"><rect class="b" x="275" y="865" width="212" height="35" rx="4"/><text class="t" x="280" y="880"><tspan x="280">1、加强了对班组安全检查力度，完善了岗位</tspan><tspan x="280" dy="13">责任制，发现问题及时通报并限期整改。</tspan></text></g>
<g id="f1c3"><rect class="b" x="275" y="936" width="212" height="61" rx="4"/><text class="t" x="280" y="951"><tspan x="280">2、充分利用例会时间，认真分析近期的安全</tspan><tspan x="280" dy="13">生产情况，将车间或总厂发生的安全事故，无</tspan><tspan x="280" dy="13">论大小，认真分析总结，吸取经验，杜绝类似</tspan><tspan x="280" dy="13">事故的再次发生。</tspan></text></g>
<g id="f1c3c"><rect class="b" x="43" y="923" width="212" height="87" rx="4"/><text class="t" x="48" y="938"><tspan x="48">任何事物都想硬币一样，有着正反两个方面。</tspan><tspan x="48" dy="13">除去成绩，去年的工作中我们也有些许差强人</tspan><tspan x="48" dy="13">意的地方，作为班组长我深为愧疚，但是我会</tspan><tspan x="48" dy="13">在今后的工作中不断完善自己，争取做得更好</tspan><tspan x="48" dy="13">，有一分热发一分光，为公司的发展献绵薄之</tspan><tspan x="48" dy="13">力，争取做一名更优秀更合格的文明班组长。</tspan></text></g>
<g id="f2"><rect class="b" x="667" y="1103" width="212" height="74" rx="4"/><text class="t" x="672" y="1118"><tspan x="672">新的一年意味着新的起点，新的机遇，新的挑</tspan><tspan x="672" dy="13">战，我会再接再厉，认真工作，对同事对公司</tspan><tspan x="672" dy="13">负责，为公司和车间的发展贡献自己的一份力</tspan><tspan x="672" dy="13">。我决心在接下来的一年中，在保持前有成绩</tspan><tspan x="672" dy="13">的基础上做到以下几点：</tspan></text></g>
<g id="f2a"><rect class="b" x="520" y="1032" width="127" height="22" rx="4"/><text class="t" x="525" y="1047">1.加强学习，拓宽知识面。</text></g>
<g id="f2b"><rect class="b" x="435" y="1077" width="212" height="35" rx="4"/><text class="t" x="440" y="1092"><tspan x="440">2.本着实事求是的精神，做到上情下达、下情</tspan><tspan x="440" dy="13">上报，真正做好车间主任等上级领导的助手。</tspan></text></g>
<g id="f2c"><rect class="b" x="435" y="1135" width="212" height="48" rx="4"/><text class="t" x="440" y="1150"><tspan x="440">3.加强与车间兄弟班组的沟通合作，关爱同车</tspan><tspan x="440" dy="13">间员工，努力使班组形成团结一致，勤奋工作</tspan><tspan x="440" dy="13">的良好氛围。</tspan></text></g>
<g id="f2d"><rect class="b" x="458" y="1226" width="189" height="22" rx="4"/><text class="t" x="463" y="1241">4.认真全面的完成车间交给的各项任务。</text></g>
<g id="f2dc"><rect class="b" x="226" y="1206" width="211" height="61" rx="4"/><text class="t" x="231" y="1221"><tspan x="231">最后希望各位领导各位同事能在以后的工作中</tspan><tspan x="231" dy="13">一如既往的支持我，我将以更加优秀的工作业</tspan><tspan x="231" dy="13">绩回报大家的关心与厚爱，因为我会一直努力</tspan><tspan x="231" dy="13">，谢谢</tspan></text></g>

<g id="g1"><rect class="b" x="667" y="1290" width="212" height="139" rx="4"/><text class="t" x="672" y="1305"><tspan x="672">教研组长是学校教育教学生涯中的重大转折，</tspan><tspan x="672" dy="13">受命以来，付出了多少心血，撒下了多少汗水</tspan><tspan x="672" dy="13">，经过多少迷茫和探索，一路风风雨雨，一路</tspan><tspan x="672" dy="13">披荆斩棘，几多欢笑，几多哀愁，几多探索，</tspan><tspan x="672" dy="13">几多奉献。在这片热土上，勤奋踏实的我迅速</tspan><tspan x="672" dy="13">地成长着，上进实干的我痛并幸福着，我和我</tspan><tspan x="672" dy="13">亲爱的同时们渐渐看到教育的硕果和曙光，在</tspan><tspan x="672" dy="13">自己的那份责任田里收获着丰收和喜悦。现就</tspan><tspan x="672" dy="13">几年来点点滴滴的故事、点点滴滴的教学科研</tspan><tspan x="672" dy="13">工作做一个深情的回顾和反思。</tspan></text></g>
<g id="g2"><rect class="b" x="783" y="1744" width="96" height="22" rx="4"/><text class="t" x="788" y="1759">1、理论强化导航向</text></g>
<g id="g2a"><rect class="b" x="551" y="1452" width="212" height="191" rx="4"/><text class="t" x="556" y="1467"><tspan x="556">"问渠哪得清如许，为有源头活水来"，教师如</tspan><tspan x="556" dy="13">果不学习，教研活动就会成本"无本之木，无</tspan><tspan x="556" dy="13">源之水"。为加强修养，提高素质，我在语文</tspan><tspan x="556" dy="13">组制定了适合语文教学的理论学习计划，首先</tspan><tspan x="556" dy="13">组织本组教师认真学习《中国教育和改革发展</tspan><tspan x="556" dy="13">纲要》等一系列教育法规，学习了《走进新课</tspan><tspan x="556" dy="13">程》《语文课程标准》《派往明天的教师》《</tspan><tspan x="556" dy="13">课程教材教法》《课堂教学设计操作》，还有</tspan><tspan x="556" dy="13">魏书生、欧阳代娜、李镇西、杨初春等一系列</tspan><tspan x="556" dy="13">语文教育专家的经典著作，提供广阔的视角，</tspan><tspan x="556" dy="13">以最大限度地转变教师的教育观念，改变传统</tspan><tspan x="556" dy="13">的教学模式，力求用先进的教育理念支撑深化</tspan><tspan x="556" dy="13">我校的语文教育改革，发挥语文在教改中的龙</tspan><tspan x="556" dy="13">头作用。</tspan></text></g>
<g id="g2b"><rect class="b" x="551" y="1667" width="212" height="152" rx="4"/><text class="t" x="556" y="1682"><tspan x="556">学习讨论活动力求切实有效，学习后要求各位</tspan><tspan x="556" dy="13">教师写出读书笔记和心得体会并予以交流展出</tspan><tspan x="556" dy="13">，使教师们把新课标的理念渗透到教学中，教</tspan><tspan x="556" dy="13">学注重以培养学生的合作交流意识和实践创新</tspan><tspan x="556" dy="13">能力为主，注重尊重学生的需要。其次鼓励老</tspan><tspan x="556" dy="13">师们采取多阅读、多反思、多执笔的方法，不</tspan><tspan x="556" dy="13">断促进对课程改革实质内容的`进一步领悟，</tspan><tspan x="556" dy="13">利用好学校的网络资源，经常上网浏览、查阅</tspan><tspan x="556" dy="13">相关的材料，及时了解课改动态，扩大自身的</tspan><tspan x="556" dy="13">视野，通过多渠道多方位地提高自身的理论素</tspan><tspan x="556" dy="13">养，以便更好服务于课改实践。</tspan></text></g>
<g id="g2c"><rect class="b" x="551" y="1841" width="212" height="243" rx="4"/><text class="t" x="556" y="1856"><tspan x="556">20__年春期的第6周我还组织了全体组员共同</tspan><tspan x="556" dy="13">学习如何在网上搜索资料（包括各类文件、教</tspan><tspan x="556" dy="13">案、课件等等），如何下载相关资源，如何将</tspan><tspan x="556" dy="13">压缩的文件进行解压，从实质上加强了对信息</tspan><tspan x="556" dy="13">的收集与处理的能力。另外还组织参加课题研</tspan><tspan x="556" dy="13">究的老师结合各自研究的课题领域，进行相关</tspan><tspan x="556" dy="13">的理论学习和研究，提高了教师们的课堂教学</tspan><tspan x="556" dy="13">策略、教学评价的能力。善学才能善研，善研</tspan><tspan x="556" dy="13">才能善教，已成为全组教师的共识，不光如此</tspan><tspan x="556" dy="13">，我们还注意用教学理论指导教学实践，认真</tspan><tspan x="556" dy="13">撰写论文。几年来，语文教研组每年都有论文</tspan><tspan x="556" dy="13">获奖，每年都有论文在刊物上发表。在我的鼓</tspan><tspan x="556" dy="13">励和带动下，教师们认真总结教学经验予以提</tspan><tspan x="556" dy="13">升，在此基础上积极参加各类比赛和向各级各</tspan><tspan x="556" dy="13">类杂志投稿，努力提高自己的理论水平，如今</tspan><tspan x="556" dy="13">，语文教研组已成为东城最具活力的教研组，</tspan><tspan x="556" dy="13">成为了学校教研教改的一道亮丽的风景线和窗</tspan><tspan x="556" dy="13">口。</tspan></text></g>
<g id="g3"><rect class="b" x="783" y="2493" width="96" height="22" rx="4"/><text class="t" x="788" y="2508">2、常规管理抓落实</text></g>
<g id="g3c"><rect class="b" x="551" y="2474" width="212" height="61" rx="4"/><text class="t" x="556" y="2489"><tspan x="556">我们坚持教研与教学同步，为教学服务，两者</tspan><tspan x="556" dy="13">有机结合，和谐统一。为了改革课堂结构和教</tspan><tspan x="556" dy="13">学方法，提高教师的课堂教学水平，提高课堂</tspan><tspan x="556" dy="13">教学效益，重点抓"四坚持"：</tspan></text></g>
<g id="h1"><rect class="b" x="258" y="2107" width="274" height="295" rx="4"/></g>
<g id="h2"><rect class="b" x="258" y="2423" width="274" height="100" rx="4"/></g>
<g id="h3"><rect class="b" x="258" y="2547" width="274" height="152" rx="4"/></g>
<g id="h4"><rect class="b" x="258" y="2722" width="274" height="61" rx="4"/></g>
<g id="g4"><rect class="b" x="783" y="3167" width="96" height="22" rx="4"/><text class="t" x="788" y="3182">3、社团活动见特色</text></g>
<g id="g4a"><rect class="b" x="551" y="2807" width="212" height="321" rx="4"/><text class="t" x="556" y="2822"><tspan x="556">配合语文教学针对初中学生水平参差不齐的特</tspan><tspan x="556" dy="13">点，本着"能力创新特色"的原则，我们语文教</tspan><tspan x="556" dy="13">研组组织了各种形式的语文活动，激发学生对</tspan><tspan x="556" dy="13">语文学习的兴趣，如为扩大学生的阅读面，2</tspan><tspan x="556" dy="13">0__年语文组成立了"学生读书会"，拥有社员</tspan><tspan x="556" dy="13">达500人，捐书购书2万余册，各班也成立了</tspan><tspan x="556" dy="13">小小图书馆，自带书籍互相传阅，解决学校图</tspan><tspan x="556" dy="13">书不足的问题；为了培养学生的写作兴趣，营</tspan><tspan x="556" dy="13">造良好和谐的校园文化氛围，培养一大批文学</tspan><tspan x="556" dy="13">爱好者，提升东城中学素质教育的水平，20_</tspan><tspan x="556" dy="13">_年1月，在学校领导的关怀下，作为语文教</tspan><tspan x="556" dy="13">研组长的我亲任社长，创建了东城中学有史以</tspan><tspan x="556" dy="13">来第一个文学社团——扬帆文学社，出版社</tspan><tspan x="556" dy="13">刊《扬帆》，每学期出两期，极大地调动了广</tspan><tspan x="556" dy="13">大学生的写作热情，深受广大师生的欢迎，在</tspan><tspan x="556" dy="13">校内外具有良好而广泛的影响，至今已出版1</tspan><tspan x="556" dy="13">0期，该刊参加20__年"首届全国中小学校内</tspan><tspan x="556" dy="13">报刊评选活动"被评为最佳社团刊奖一等奖；</tspan><tspan x="556" dy="13">此外每年都要组织一次大型的作文竞赛活动和</tspan><tspan x="556" dy="13">读书征文活动，大大提高了学校素质教育的整</tspan><tspan x="556" dy="13">体水平；为提高书写能力，有的班级组织了书</tspan><tspan x="556" dy="13">法比赛，还精心组织了全校性的普通话比赛，</tspan><tspan x="556" dy="13">演讲比赛，读书交流会等，都锻炼了学生的创</tspan><tspan x="556" dy="13">新精神和实践能力，有力地促进了语文教学。</tspan></text></g>
<g id="g4b"><rect class="b" x="677" y="3152" width="86" height="22" rx="4"/><text class="t" x="682" y="3167">4一往无前再登攀</text></g>
<g id="g4c"><rect class="b" x="551" y="3196" width="212" height="87" rx="4"/><text class="t" x="556" y="3211"><tspan x="556">我常常叩问自己：你给了孩子们怎样的教育？</tspan><tspan x="556" dy="13">你给了孩子们什么样的课堂？你以怎样的方式</tspan><tspan x="556" dy="13">在影响着他们？你是否带着他们走好了人生的</tspan><tspan x="556" dy="13">第一步？……熟悉我的老师都说我是在追求着</tspan><tspan x="556" dy="13">教育的极致，是在追寻着一个遥不可及的教育</tspan><tspan x="556" dy="13">理想。</tspan></text></g>
<g id="g4d"><rect class="b" x="551" y="3307" width="212" height="48" rx="4"/><text class="t" x="556" y="3322"><tspan x="556">教育，是我生命里永远的牵挂！身后的印迹必</tspan><tspan x="556" dy="13">定还在不断延伸，在未来的生命历程中我会以</tspan><tspan x="556" dy="13">"陀山鹦鹉，入水濡羽"的情怀执着我的追求，</tspan></text></g>
<g id="g4e"><rect class="b" x="602" y="3377" width="161" height="22" rx="4"/><text class="t" x="607" y="3392">用自己的青春谱写着辉煌的篇章！</text></g>
</svg>
